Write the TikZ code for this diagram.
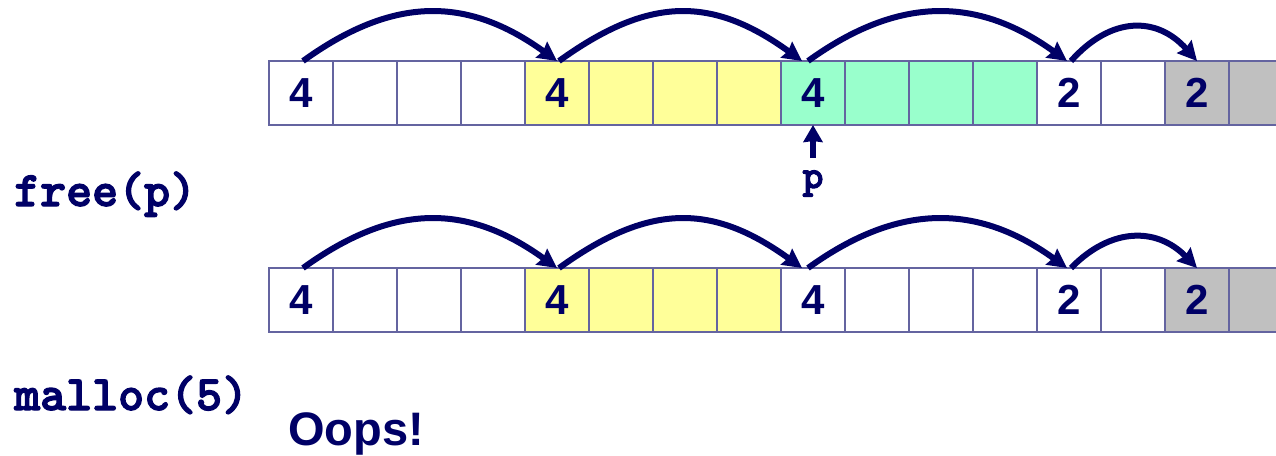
\documentclass[tikz,border=0pt]{standalone}
\usepackage{fontspec}
\setmainfont{Liberation Sans}
\newfontfamily\codefont{lmmonolt10-bold}[Extension=.otf,FakeBold=2.5]
\usetikzlibrary{arrows.meta}
\definecolor{navy}{RGB}{0,0,102}
\definecolor{cellline}{RGB}{100,100,160}
\definecolor{yel}{RGB}{255,255,153}
\definecolor{grn}{RGB}{153,255,204}
\definecolor{gry}{RGB}{192,192,192}
\begin{document}
\begin{tikzpicture}[x=1pt,y=-1pt,
  cell/.style={draw=cellline,line width=1.2pt,minimum width=64pt,minimum height=64pt,
    inner sep=0pt,outer sep=0pt,font=\fontsize{42}{50}\selectfont\bfseries,text=navy},
  link/.style={draw=navy,line width=6pt,-{Stealth[length=19pt,width=19pt,inset=2pt]}},
  ptr/.style={draw=navy,line width=6pt,-{Stealth[length=17pt,width=19pt,inset=1pt]}},
  code/.style={font=\codefont\fontsize{49.5}{56}\selectfont,text=navy,inner sep=0pt},
  big/.style={font=\fontsize{47}{56}\selectfont\bfseries,text=navy,inner sep=0pt}]
\useasboundingbox (0,0) rectangle (1276,455);
\clip (0,0) rectangle (1276,455);
% row 1
\foreach \i/\f/\t in {1/white/4,2/white/{},3/white/{},4/white/{},5/yel/4,6/yel/{},7/yel/{},8/yel/{},
  9/grn/4,10/grn/{},11/grn/{},12/grn/{},13/white/2,14/white/{},15/gry/2,16/gry/{}}
  \node[cell,fill=\f] (a\i) at ({237+64*\i},93) {\t};
% row 2
\foreach \i/\f/\t in {1/white/4,2/white/{},3/white/{},4/white/{},5/yel/4,6/yel/{},7/yel/{},8/yel/{},
  9/white/4,10/white/{},11/white/{},12/white/{},13/white/2,14/white/{},15/gry/2,16/gry/{}}
  \node[cell,fill=\f] (b\i) at ({237+64*\i},300) {\t};
% links row 1
\draw[link] ([xshift=2pt]a1.north) .. controls +(90,-65) and +(-90,-65) .. (a5.north);
\draw[link] ([xshift=2pt]a5.north) .. controls +(90,-65) and +(-90,-65) .. ([xshift=-11pt]a9.north);
\draw[link] ([xshift=-5pt]a9.north) .. controls +(90,-65) and +(-90,-65) .. ([xshift=-2pt]a13.north);
\draw[link] ([xshift=2pt]a13.north) .. controls +(40,-45) and +(-40,-45) .. (a15.north);
% links row 2
\draw[link] ([xshift=2pt]b1.north) .. controls +(90,-65) and +(-90,-65) .. (b5.north);
\draw[link] ([xshift=2pt]b5.north) .. controls +(90,-65) and +(-90,-65) .. ([xshift=-11pt]b9.north);
\draw[link] ([xshift=-5pt]b9.north) .. controls +(90,-65) and +(-90,-65) .. ([xshift=-2pt]b13.north);
\draw[link] ([xshift=2pt]b13.north) .. controls +(40,-41) and +(-40,-41) .. (b15.north);
% pointer p
\node[code,anchor=base,font=\codefont\fontsize{40}{46}\selectfont] (p) at (813,188) {p};
\coordinate (ptail) at (813,158);
\draw[ptr] (ptail) -- (a9.south);
% labels
\node[code,anchor=base west] (free) at (14,206) {free(p)};
\node[code,anchor=base west] (malloc) at (14,410) {malloc(5)};
\node[big,anchor=base west] (oops) at (288,445) {Oops!};
\end{tikzpicture}
\end{document}
